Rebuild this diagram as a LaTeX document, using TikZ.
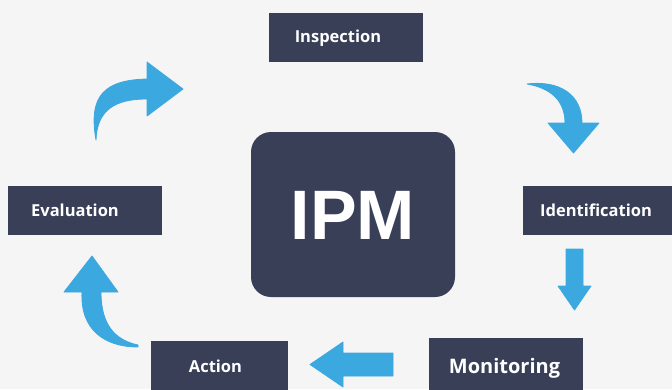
\documentclass[tikz,border=0pt]{standalone}
\usepackage{fontspec}
\setmainfont{Open Sans}
\newfontfamily\ipmfont{Liberation Sans}
\definecolor{navy}{HTML}{383F57}
\definecolor{sky}{HTML}{3BA9E0}
\definecolor{paper}{HTML}{F5F5F5}
\tikzstyle{stage} = [rectangle, fill=navy, text=white, minimum width=154pt, minimum height=49pt, inner sep=0pt, text height=11.8pt, text depth=0pt, font=\bfseries\fontsize{16.5}{18}\selectfont]
\tikzstyle{core} = [rectangle, rounded corners=20pt, fill=navy, text=white, minimum width=204pt, minimum height=165pt, inner sep=0pt, text height=50pt, text depth=0pt, font=\ipmfont\bfseries\fontsize{70}{72}\selectfont]
\tikzstyle{blockarrow} = [fill=sky, draw=sky, line width=0.8pt, line join=round]

\begin{document}
\begin{tikzpicture}[x=1pt, y=-1pt]
  \fill[paper] (0,0) rectangle (672,389);
  \clip (0,0) rectangle (672,389);

  \node (ipm) [core] at (353,214.5) {IPM};
  \node (insp) [stage] at (346,37) {\hspace*{-16pt}Inspection};
  \node (ident) [stage] at (600,210.5) {\hspace*{-8pt}Identification};
  \node (eval) [stage] at (85,210.5) {\hspace*{-20pt}Evaluation};
  \node (act) [stage, minimum width=137pt, minimum height=52pt] at (219.5,367) {\hspace*{-8pt}Action};
  \node (mon) [stage, minimum height=56pt, text height=14.3pt, font=\bfseries\fontsize{20}{22}\selectfont] at (506,366) {\hspace*{-3pt}Monitoring};

  % evaluation to inspection
  \path [blockarrow] (96,140) .. controls (88,95) and (105,80) .. (147,79) -- (147,62) -- (183,89) -- (147,116) -- (147,99) .. controls (115,99) and (97,110) .. (96,140) -- cycle;
  % inspection to identification
  \path [blockarrow] (527,84) .. controls (560,80) and (582,95) .. (582,123) -- (599,123) -- (573.5,153) -- (548,123) -- (565,123) .. controls (565,100) and (550,88) .. (527,84) -- cycle;
  % identification to monitoring
  \path [blockarrow] (566,249) -- (583,249) -- (583,286) -- (591,286) -- (574.5,310) -- (558,286) -- (566,286) -- cycle;
  % monitoring to action
  \path [blockarrow] (393,353) -- (393,376) -- (343,376) -- (343,387) -- (310,364.5) -- (343,342) -- (343,353) -- cycle;
  % action to evaluation
  \path [blockarrow] (138,347) .. controls (105,347) and (80,330) .. (82,292) -- (64,292) -- (92,256) -- (118,292) -- (101,292) .. controls (101,325) and (115,340) .. (138,345) -- cycle;
\end{tikzpicture}
\end{document}
